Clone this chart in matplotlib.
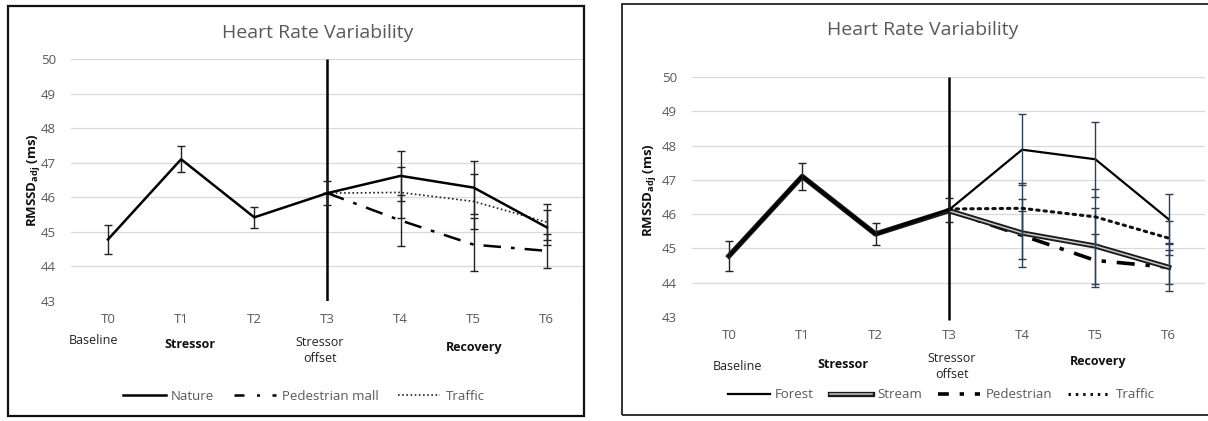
import matplotlib
matplotlib.use("Agg")
import matplotlib.pyplot as plt
import matplotlib.patheffects as pe
from matplotlib.patches import Rectangle
from matplotlib.lines import Line2D

plt.rcParams['font.family'] = ['Open Sans', 'DejaVu Sans']
plt.rcParams['mathtext.fontset'] = 'custom'
plt.rcParams['mathtext.bf'] = 'Open Sans:bold'
plt.rcParams['mathtext.rm'] = 'Open Sans'

# ---------------- data ----------------
times = ["T0", "T1", "T2", "T3", "T4", "T5", "T6"]
y_ticks = [43, 44, 45, 46, 47, 48, 49, 50]

# left panel
nature = [44.78, 47.10, 45.42, 46.12, 46.62, 46.28, 45.13]
nature_err = [0.43, 0.37, 0.31, 0.34, 0.73, 0.77, 0.50]
ped_mall = [46.12, 45.33, 44.63, 44.45]          # T3..T6
ped_mall_err = [0.0, 0.74, 0.77, 0.50]
traffic_l = [46.12, 46.14, 45.88, 45.28]         # T3..T6
traffic_l_err = [0.0, 0.75, 0.80, 0.52]

# right panel
forest = [44.78, 47.10, 45.42, 46.12, 47.88, 47.60, 45.85]
forest_err = [0.43, 0.39, 0.33, 0.36, 1.03, 1.10, 0.73]
stream = [44.78, 47.10, 45.42, 46.10, 45.45, 45.07, 44.45]
stream_err = [0.0, 0.0, 0.0, 0.0, 1.00, 1.10, 0.70]
pedestrian = [46.10, 45.38, 44.65, 44.45]        # T3..T6
pedestrian_err = [0.0, 0.70, 0.78, 0.50]
traffic_r = [46.15, 46.17, 45.92, 45.30]         # T3..T6
traffic_r_err = [0.0, 0.75, 0.80, 0.50]

phase_labels = ["Baseline", "Stressor", "Stressor\noffset", "Recovery"]

# ---------------- figure ----------------
W, H = 1208, 421
fig = plt.figure(figsize=(W / 100, H / 100), dpi=100)
fig.patch.set_facecolor('white')


def fx(px):
    return px / W


def fy(py):
    return 1 - py / H


GRAY = '#595959'


def style_axes(ax):
    ax.set_xlim(-0.5, 6.5)
    ax.set_ylim(43, 50)
    ax.set_yticks(y_ticks)
    ax.set_xticks(range(len(times)))
    ax.set_xticklabels(times)
    for s in ax.spines.values():
        s.set_visible(False)
    ax.tick_params(length=0, colors=GRAY, labelsize=9.5)
    ax.tick_params(axis='x', pad=8.5)
    ax.tick_params(axis='y', pad=11)
    ax.grid(axis='y', color='#d9d9d9', lw=0.9)
    ax.set_axisbelow(True)


# borders
fig.patches.append(Rectangle((fx(8), fy(416)), fx(584 - 8), (416 - 6) / H,
                             transform=fig.transFigure, fill=False,
                             ec='#111111', lw=1.6, zorder=0))
fig.patches.append(Rectangle((fx(622), fy(415)), fx(1212 - 622), (415 - 4) / H,
                             transform=fig.transFigure, fill=False,
                             ec='#222222', lw=1.3, zorder=0))

# ---------- left axes ----------
axL = fig.add_axes([fx(71.4), fy(301), fx(512), (301 - 59) / H])
style_axes(axL)
x_all = list(range(7))
x_rec = list(range(3, 7))
axL.vlines(3, 43, 50, color='black', lw=1.8, zorder=3)
axL.errorbar(x_all, nature, yerr=nature_err, color='black', lw=1.8,
             ecolor='#222222', elinewidth=1, capsize=3, capthick=1, zorder=5)
axL.errorbar(x_rec, ped_mall, yerr=ped_mall_err, color='black', lw=1.8,
             dashes=(7, 4, 1.5, 4), ecolor='#222222', elinewidth=1,
             capsize=3, capthick=1, zorder=4)
axL.errorbar(x_rec, traffic_l, yerr=traffic_l_err, color='#222222', lw=1.2,
             linestyle=(0, (1, 1.5)), ecolor='#222222', elinewidth=1,
             capsize=3, capthick=1, zorder=4)

hL = [Line2D([], [], color='black', lw=1.8),
      Line2D([], [], color='black', lw=1.8, dashes=(4, 5, 1.2, 5)),
      Line2D([], [], color='#222222', lw=1.2, linestyle=(0, (1, 1.5)))]
legL = fig.legend(hL, ["Nature", "Pedestrian mall", "Traffic"], ncol=3,
                  loc='center', bbox_to_anchor=(fx(304), fy(396)),
                  frameon=False, fontsize=9.5, handlelength=3.2,
                  columnspacing=1.5, handletextpad=0.4)
for t in legL.get_texts():
    t.set_color(GRAY)

fig.text(fx(318), fy(33), "Heart Rate Variability", ha='center', va='center',
         fontsize=14, color=GRAY)
fig.text(fx(33), fy(180), r"RMSSD$_{\mathbf{adj}}$ (ms)", rotation=90,
         ha='center', va='center', fontsize=9.5, fontweight='bold', color='#111111')
fig.text(fx(93), fy(340), phase_labels[0], ha='center', va='center', fontsize=9, color='#222222')
fig.text(fx(190), fy(344), phase_labels[1], ha='center', va='center', fontsize=9,
         fontweight='bold', color='#111111')
fig.text(fx(320), fy(350), phase_labels[2], ha='center', va='center', fontsize=9,
         color='#222222', linespacing=1.3)
fig.text(fx(474), fy(347), phase_labels[3], ha='center', va='center', fontsize=9,
         fontweight='bold', color='#111111')

# ---------- right axes ----------
axR = fig.add_axes([fx(692.3), fy(317), fx(513), (317 - 77) / H])
style_axes(axR)
axR.vlines(3, 42.9, 50, color='black', lw=1.8, zorder=3, clip_on=False)
NAVY = '#2c3e5a'
stream_pe = [pe.Stroke(linewidth=3.8, foreground='#1a1a1a'), pe.Normal()]
axR.plot(x_all, stream, color='#c8c8c8', lw=1.1, path_effects=stream_pe, zorder=4)
axR.errorbar(x_rec[1:], stream[4:], yerr=stream_err[4:], fmt='none',
             ecolor=NAVY, elinewidth=1, capsize=3, capthick=1, zorder=4)
axR.errorbar(x_rec, pedestrian, yerr=pedestrian_err, color='black', lw=2.6,
             dashes=(5, 3, 1.2, 3), ecolor=NAVY, elinewidth=1,
             capsize=3, capthick=1, zorder=3)
axR.errorbar(x_rec, traffic_r, yerr=traffic_r_err, color='#111111', lw=2.2,
             linestyle=(0, (0.8, 1.6)), dash_capstyle='round', ecolor=NAVY,
             elinewidth=1, capsize=3, capthick=1, zorder=4)
axR.plot(x_all[:4], forest[:4], color='black', lw=2.2, zorder=6)
axR.plot(x_all[3:], forest[3:], color='black', lw=1.6, zorder=6)
axR.errorbar(x_all[:4], forest[:4], yerr=forest_err[:4], fmt='none',
             ecolor='#222222', elinewidth=1, capsize=3, capthick=1, zorder=6)
axR.errorbar(x_rec[1:], forest[4:], yerr=forest_err[4:], fmt='none',
             ecolor=NAVY, elinewidth=1, capsize=3, capthick=1, zorder=6)

hR = [Line2D([], [], color='black', lw=1.6),
      Line2D([], [], color='#c8c8c8', lw=1.1, path_effects=stream_pe),
      Line2D([], [], color='black', lw=2.6, dashes=(3, 3, 1.2, 3)),
      Line2D([], [], color='#111111', lw=2.2, linestyle=(0, (0.8, 1.6)))]
legR = fig.legend(hR, ["Forest", "Stream", "Pedestrian", "Traffic"], ncol=4,
                  loc='center', bbox_to_anchor=(fx(941), fy(395)),
                  frameon=False, fontsize=9.5, handlelength=3.2,
                  columnspacing=1.2, handletextpad=0.4)
for t in legR.get_texts():
    t.set_color(GRAY)

fig.text(fx(923), fy(30), "Heart Rate Variability", ha='center', va='center',
         fontsize=14, color=GRAY)
fig.text(fx(650), fy(190), r"RMSSD$_{\mathbf{adj}}$ (ms)", rotation=90,
         ha='center', va='center', fontsize=9.5, fontweight='bold', color='#111111')
fig.text(fx(738), fy(366), phase_labels[0], ha='center', va='center', fontsize=9, color='#222222')
fig.text(fx(843), fy(365), phase_labels[1], ha='center', va='center', fontsize=9,
         fontweight='bold', color='#111111')
fig.text(fx(952), fy(367), phase_labels[2], ha='center', va='center', fontsize=9,
         color='#222222', linespacing=1.3)
fig.text(fx(1098), fy(362), phase_labels[3], ha='center', va='center', fontsize=9,
         fontweight='bold', color='#111111')

fig.savefig("out.png", dpi=100)
